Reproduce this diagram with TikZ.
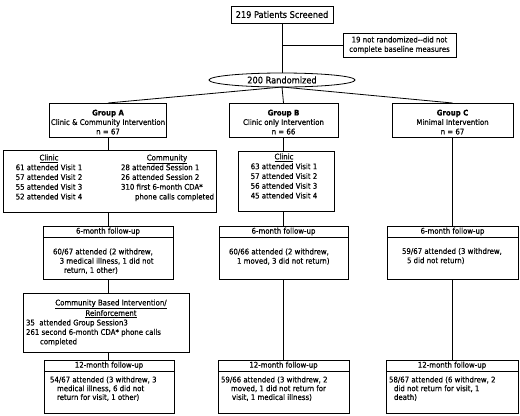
\documentclass[tikz,border=0pt]{standalone}
\usepackage{fontspec}
\setmainfont{DejaVu Sans Condensed}[FakeBold=0.3]
\usetikzlibrary{shapes.geometric}
\begin{document}
\begin{tikzpicture}[x=1bp,y=-1bp,
  every node/.style={inner sep=0pt, outer sep=0pt},
  box/.style={draw, line width=0.8bp, rectangle},
  conn/.style={line width=0.8bp},
  big/.style={font=\fontsize{9.2}{11}\selectfont},
  txt/.style={font=\fontsize{7.8}{9.5}\selectfont},
  txtc/.style={font=\fontsize{7.8}{9.8}\selectfont},
  txtm/.style={font=\fontsize{7.8}{9.3}\selectfont},
  txty/.style={font=\fontsize{7.8}{8.8}\selectfont}]
\useasboundingbox[fill=white] (0,0) rectangle (520,415);

% top
\node[box, big, minimum width=102bp, minimum height=17bp] (screen) at (282,14.5) {219 Patients Screened};
\node[box, txt, align=center, minimum width=113bp, minimum height=24bp] (excl) at (399.5,45) {19 not randomized{-}{-}did not\\complete baseline measures};
\node[draw, line width=0.8bp, ellipse, big, minimum width=146bp, minimum height=14bp] (rand) at (282,80) {200 Randomized};
\coordinate (j1) at (282,45);

% groups
\node[box, txt, align=center, minimum width=117bp, minimum height=34bp] (gA) at (108,120) {\rule{0pt}{10bp}\textbf{Group A}\\Clinic \& Community Intervention\\n = 67};
\node[box, txt, align=center, minimum width=109bp, minimum height=34bp] (gB) at (283.5,120) {\rule{0pt}{10bp}\textbf{Group B}\\Clinic only Intervention\\n = 66};
\node[box, txt, align=center, minimum width=121bp, minimum height=34bp] (gC) at (452.5,120) {\rule{0pt}{10bp}\textbf{Group C}\\Minimal Intervention\\n = 67};

% clinic boxes
\node[box, minimum width=213bp, minimum height=62bp] (cA) at (109.5,181) {};
\node[txtc, align=center, anchor=north] (cAl) at (49,154.5) {\underline{Clinic}\\61 attended Visit 1\\57 attended Visit 2\\55 attended Visit 3\\52 attended Visit 4};
\node[txtc, align=left, anchor=north west] (cAr) at (121,154.5) {\makebox[92bp][c]{\underline{Community}}\\28 attended Session 1\\26 attended Session 2\\310 first 6-month CDA*\\\hspace*{14bp}phone calls completed};
\node[box, minimum width=96bp, minimum height=60bp] (cB) at (286,181) {};
\node[txtc, align=center, anchor=north] (cBt) at (284,153.5) {\underline{Clinic}\\63 attended Visit 1\\57 attended Visit 2\\56 attended Visit 3\\45 attended Visit 4};

% 6-month
\node[box, minimum width=130bp, minimum height=53bp] (mA) at (108,252.5) {};
\node[box, minimum width=129bp, minimum height=53bp] (mB) at (283.5,252.5) {};
\node[box, minimum width=131bp, minimum height=53bp] (mC) at (452.5,252.5) {};
\foreach \b in {mA,mB,mC}{
  \draw[conn] ([yshift=-11bp]\b.north west) -- ([yshift=-11bp]\b.north east);
  \node[txt] (\b h) at ([yshift=-5.5bp]\b.north) {6-month follow-up};
}
\node[txtm, align=left, anchor=north west] (mAb) at (53,248.5) {60/67 attended (2 withdrew,\\\hspace*{6.7bp}3 medical illness, 1 did not\\\hspace*{11bp}return, 1 other)};
\node[txtm, align=left, anchor=north west] (mBb) at (229,248.5) {60/66 attended (2 withdrew,\\\hspace*{8bp}1 moved, 3 did not return)};
\node[txtm, align=left, anchor=north west] (mCb) at (402,248) {59/67 attended (3 withdrew,\\\hspace*{5bp}5 did not return)};

% community
\node[box, minimum width=166bp, minimum height=59bp] (com) at (106,322.5) {};
\node[txt, align=center, anchor=north] (comh) at (111,299.5) {\underline{Community Based Intervention/}\\\underline{Reinforcement}};
\node[txt, align=left, anchor=north west] (comb) at (26,319.5) {35\ \ attended Group Session3\\261 second 6-month CDA* phone calls\\\hspace*{14bp}completed};

% 12-month
\node[box, minimum width=130bp, minimum height=53bp] (yA) at (109,386.5) {};
\node[box, minimum width=131bp, minimum height=53bp] (yB) at (283.5,386.5) {};
\node[box, minimum width=132bp, minimum height=53bp] (yC) at (452,386.5) {};
\foreach \b in {yA,yB,yC}{
  \draw[conn] ([yshift=-11bp]\b.north west) -- ([yshift=-11bp]\b.north east);
  \node[txt] (\b h) at ([yshift=-5.5bp]\b.north) {12-month follow-up};
}
\node[txty, align=left, anchor=north west] (yAb) at (50,376.5) {54/67 attended (3 withdrew, 3\\\hspace*{7bp}medical illness, 6 did not\\\hspace*{7bp}return for visit, 1 other)};
\node[txty, align=left, anchor=north west] (yBb) at (221,376.5) {59/66 attended (3 withdrew, 2\\\hspace*{10bp}moved, 1 did not return for\\\hspace*{11bp}visit, 1 medical illness)};
\node[txty, align=left, anchor=north west] (yCb) at (389,376.5) {58/67 attended (6 withdrew, 2\\\hspace*{5bp}did not return for visit, 1\\\hspace*{5bp}death)};

% connectors
\draw[conn] (screen.south) -- (rand.north);
\draw[conn] (j1) -- (excl.west);
\draw[conn] (rand.south) -- (gA.north);
\draw[conn] (rand.south) -- (gB.north);
\draw[conn] (rand.south) -- (gC.north);
\draw[conn] (gA.south) -- (gA.south |- cA.north);
\draw[conn] (gA.south |- cA.south) -- (mA.north);
\draw[conn] (mA.south) -- (mA.south |- com.north);
\draw[conn] (mA.south |- com.south) -- (mA.south |- yA.north);
\draw[conn] (gB.south) -- (gB.south |- cB.north);
\draw[conn] (gB.south |- cB.south) -- (mB.north);
\draw[conn] (mB.south) -- (yB.north);
\draw[conn] (gC.south) -- (mC.north);
\draw[conn] (mC.south) -- (mC.south |- yC.north);
\end{tikzpicture}
\end{document}
